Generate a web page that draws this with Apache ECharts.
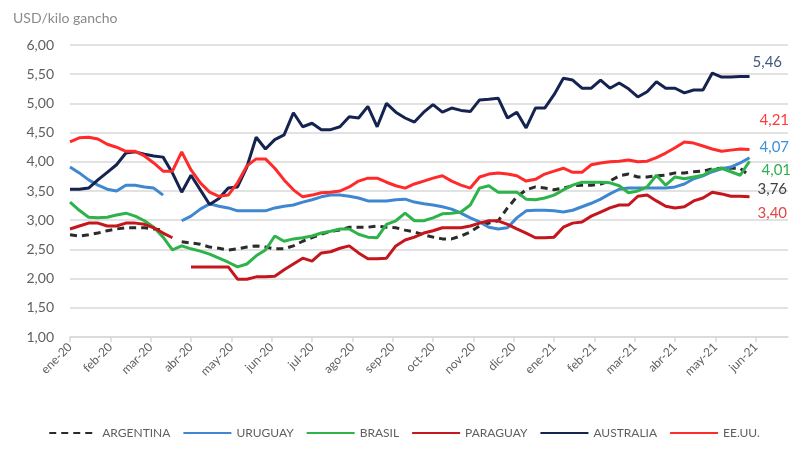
<!DOCTYPE html>
<html>
<head>
<meta charset="utf-8">
<script src="https://cdn.jsdelivr.net/npm/echarts@6/dist/echarts.min.js"></script>
<style>
  html, body { margin: 0; background: #fff; }
  #chart { width: 808px; height: 450px; }
</style>
</head>
<body>
<div id="chart"></div>
<script>
// month tick labels (x axis is in months, ene-20 = 0)
const months = ['ene-20', 'feb-20', 'mar-20', 'abr-20', 'may-20', 'jun-20', 'jul-20', 'ago-20', 'sep-20',
  'oct-20', 'nov-20', 'dic-20', 'ene-21', 'feb-21', 'mar-21', 'abr-21', 'may-21', 'jun-21'];
const yTicks = [1, 1.5, 2, 2.5, 3, 3.5, 4, 4.5, 5, 5.5, 6];

// weekly prices, USD/kilo gancho (null = no quote)
const argentina = [2.75, 2.73, 2.75, 2.78, 2.82, 2.85, 2.87, 2.87, 2.87, 2.85,
  2.83, null, 2.63, 2.61, 2.59, 2.54, 2.52, 2.49, 2.51, 2.54,
  2.56, 2.54, 2.51, 2.51, 2.56, 2.64, 2.70, 2.76, 2.81, 2.83,
  2.88, 2.88, 2.88, 2.90, 2.88, 2.87, 2.83, 2.80, 2.75, 2.71,
  2.68, 2.68, 2.73, 2.80, 2.90, 2.95, 2.99, 3.21, 3.40, 3.52,
  3.57, 3.55, 3.52, 3.55, 3.59, 3.60, 3.60, 3.62, 3.67, 3.76,
  3.79, 3.74, 3.74, 3.76, 3.77, 3.81, 3.81, 3.83, 3.84, 3.88,
  3.89, 3.89, 3.89, 3.76];
const uruguay = [3.91, 3.81, 3.69, 3.60, 3.53, 3.50, 3.60, 3.60, 3.57, 3.55,
  3.43, null, 2.99, 3.07, 3.19, 3.28, 3.24, 3.21, 3.16, 3.16,
  3.16, 3.16, 3.21, 3.24, 3.26, 3.31, 3.35, 3.40, 3.43, 3.43,
  3.41, 3.38, 3.33, 3.33, 3.33, 3.35, 3.36, 3.31, 3.28, 3.26,
  3.23, 3.19, 3.12, 3.04, 2.97, 2.88, 2.85, 2.87, 3.04, 3.16,
  3.17, 3.17, 3.16, 3.14, 3.17, 3.23, 3.29, 3.36, 3.45, 3.53,
  3.55, 3.55, 3.55, 3.55, 3.55, 3.57, 3.62, 3.71, 3.76, 3.83,
  3.88, 3.91, 3.98, 4.07];
const brasil = [3.31, 3.17, 3.05, 3.04, 3.05, 3.09, 3.12, 3.07, 2.99, 2.88,
  2.71, 2.49, 2.56, 2.51, 2.47, 2.42, 2.35, 2.28, 2.20, 2.25,
  2.39, 2.49, 2.73, 2.64, 2.68, 2.70, 2.73, 2.78, 2.81, 2.85,
  2.85, 2.76, 2.71, 2.70, 2.93, 2.99, 3.12, 2.99, 2.99, 3.04,
  3.11, 3.12, 3.14, 3.26, 3.55, 3.59, 3.48, 3.48, 3.48, 3.36,
  3.35, 3.38, 3.43, 3.52, 3.60, 3.65, 3.65, 3.65, 3.64, 3.59,
  3.47, 3.50, 3.57, 3.77, 3.60, 3.74, 3.71, 3.74, 3.77, 3.86,
  3.89, 3.83, 3.77, 4.01];
const paraguay = [2.85, 2.90, 2.95, 2.95, 2.90, 2.90, 2.95, 2.95, 2.93, 2.87,
  2.78, 2.70, null, 2.20, 2.20, 2.20, 2.20, 2.20, 1.99, 1.99,
  2.03, 2.03, 2.04, 2.15, 2.25, 2.35, 2.30, 2.44, 2.46, 2.52,
  2.56, 2.44, 2.34, 2.34, 2.35, 2.56, 2.66, 2.71, 2.78, 2.82,
  2.87, 2.87, 2.87, 2.90, 2.95, 2.99, 2.99, 2.93, 2.85, 2.78,
  2.70, 2.70, 2.71, 2.88, 2.95, 2.97, 3.07, 3.14, 3.21, 3.26,
  3.26, 3.41, 3.43, 3.33, 3.24, 3.21, 3.23, 3.33, 3.38, 3.48,
  3.45, 3.41, 3.41, 3.40];
const australia = [3.53, 3.53, 3.55, 3.69, 3.82, 3.95, 4.15, 4.17, 4.13, 4.10,
  4.08, 3.81, 3.48, 3.77, 3.52, 3.27, 3.37, 3.55, 3.57, 3.91,
  4.42, 4.22, 4.38, 4.46, 4.84, 4.60, 4.66, 4.55, 4.55, 4.60,
  4.77, 4.75, 4.95, 4.60, 5.00, 4.85, 4.75, 4.68, 4.85, 4.98,
  4.85, 4.92, 4.88, 4.86, 5.06, 5.07, 5.09, 4.75, 4.85, 4.58,
  4.92, 4.92, 5.15, 5.43, 5.40, 5.26, 5.26, 5.40, 5.26, 5.35,
  5.25, 5.11, 5.20, 5.37, 5.26, 5.26, 5.18, 5.23, 5.23, 5.52,
  5.45, 5.45, 5.46, 5.46];
const eeuu = [4.34, 4.41, 4.42, 4.39, 4.30, 4.25, 4.18, 4.18, 4.10, 3.98,
  3.84, 3.84, 4.17, 3.86, 3.64, 3.48, 3.41, 3.43, 3.64, 3.93,
  4.05, 4.05, 3.89, 3.69, 3.52, 3.40, 3.43, 3.47, 3.48, 3.50,
  3.57, 3.67, 3.72, 3.72, 3.65, 3.59, 3.55, 3.62, 3.67, 3.72,
  3.76, 3.67, 3.60, 3.55, 3.74, 3.79, 3.81, 3.79, 3.76, 3.67,
  3.70, 3.79, 3.84, 3.89, 3.82, 3.82, 3.95, 3.98, 4.00, 4.01,
  4.03, 4.00, 4.01, 4.07, 4.15, 4.24, 4.34, 4.32, 4.27, 4.22,
  4.18, 4.20, 4.22, 4.21];

const fmt = v => v.toFixed(2).replace('.', ',');
const WEEK = 12 / 52; // one weekly quote, in months

function makeSeries(name, values, color, labelColor, labelOffset, dashed) {
  return {
    name: name,
    type: 'line',
    symbol: 'none',
    connectNulls: false,
    data: values.map((v, i) => [i * WEEK, v]),
    lineStyle: { color: color, width: 3, type: dashed ? [7, 5] : 'solid' },
    itemStyle: { color: color },
    endLabel: {
      show: true,
      formatter: p => fmt(p.value[1]),
      color: labelColor,
      fontSize: 15,
      fontFamily: 'Lato',
      distance: 8,
      offset: labelOffset
    }
  };
}

const chart = echarts.init(document.getElementById('chart'));

chart.setOption({
  animation: false,
  backgroundColor: '#fff',
  textStyle: { fontFamily: 'Lato' },
  title: {
    text: 'USD/kilo gancho',
    left: 8,
    top: 6,
    textStyle: { color: '#8a8a8a', fontSize: 14, fontWeight: 'normal', fontFamily: 'Lato' }
  },
  grid: { left: 70, right: 20, top: 45, bottom: 113 },
  xAxis: {
    type: 'value',
    min: 0,
    max: 17.8,
    interval: 1,
    splitLine: { show: false },
    axisLine: { lineStyle: { color: '#d9d9d9', width: 1.5 } },
    axisTick: { show: true, length: 5, lineStyle: { color: '#d9d9d9', width: 1.5 }, customValues: months.map((m, i) => i) },
    axisLabel: {
      rotate: 45,
      color: '#5f5f5f',
      fontSize: 12,
      margin: 8,
      customValues: months.map((m, i) => i),
      formatter: v => (Number.isInteger(v) && months[v]) ? months[v] : ''
    }
  },
  yAxis: {
    type: 'value',
    min: yTicks[0],
    max: yTicks[yTicks.length - 1],
    interval: 0.5,
    axisLine: { show: false },
    axisTick: { show: false },
    splitLine: { lineStyle: { color: '#d9d9d9', width: 1.5 } },
    axisLabel: { color: '#5f5f5f', fontSize: 14, margin: 16, formatter: v => fmt(v) }
  },
  legend: {
    bottom: 6,
    left: 'center',
    itemWidth: 48,
    itemHeight: 10,
    itemGap: 12,
    itemStyle: { opacity: 0 },
    textStyle: { color: '#5f5f5f', fontSize: 12, padding: [0, 0, 0, 0] },
    data: ['ARGENTINA', 'URUGUAY', 'BRASIL', 'PARAGUAY', 'AUSTRALIA', 'EE.UU.']
  },
  series: [
    makeSeries('ARGENTINA', argentina, '#2b2b2b', '#404040', [0, 13], true),
    makeSeries('URUGUAY', uruguay, '#3f87d0', '#3f8fd8', [2, -11]),
    makeSeries('BRASIL', brasil, '#2db34a', '#2bb24c', [4, 9]),
    makeSeries('PARAGUAY', paraguay, '#c4161c', '#e04848', [0, 16]),
    makeSeries('AUSTRALIA', australia, '#14234f', '#44577f', [-5, -14]),
    makeSeries('EE.UU.', eeuu, '#ff2b2b', '#ff3b3b', [2, -29])
  ]
});
</script>
</body>
</html>
